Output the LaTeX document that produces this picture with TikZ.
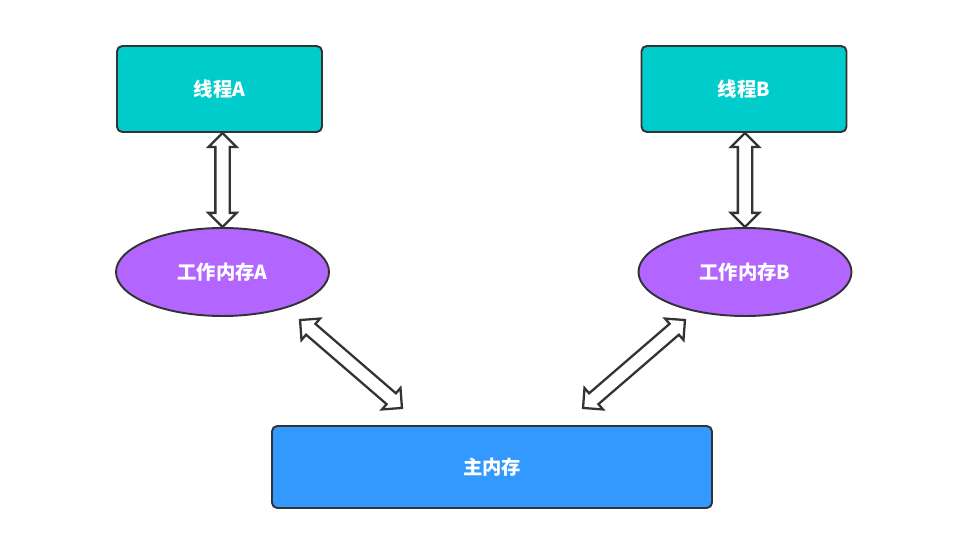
\documentclass[tikz,border=0pt]{standalone}
\usepackage{fontspec}
\setmainfont{Noto Sans CJK SC}
\usetikzlibrary{shapes.geometric,shapes.arrows,calc}

\definecolor{threadc}{RGB}{0,204,204}
\definecolor{workc}{RGB}{178,102,255}
\definecolor{mainc}{RGB}{51,153,255}
\definecolor{edgec}{RGB}{51,51,51}

\tikzset{
  label text/.style={text=white, font=\bfseries\fontsize{11}{13}\selectfont},
  box/.style={draw=edgec, line width=1.1pt, rounded corners=3pt, label text},
  oval/.style={ellipse, draw=edgec, fill=workc, line width=1.1pt, inner sep=0, label text},
  hollow/.style={double arrow, draw=edgec, fill=white, line width=1.3pt,
    double arrow head extend=0.14cm, inner xsep=0, inner ysep=0.12cm,
    minimum width=0.52cm}
}

\begin{document}
\begin{tikzpicture}

\useasboundingbox ( 0, 0 ) rectangle ( 19.54, -10.92 );

% Threads
\node [box, fill=threadc, minimum width=4.1cm, minimum height=1.72cm] (thrA) at ( 4.39, -1.78 ) {线程A};
\node [box, fill=threadc, minimum width=4.1cm, minimum height=1.72cm] (thrB) at ( 14.88, -1.78 ) {线程B};

% Working memory
\node [oval, minimum width=4.26cm, minimum height=1.76cm] (memA) at ( 4.45, -5.44 ) {工作内存A};
\node [oval, minimum width=4.26cm, minimum height=1.76cm] (memB) at ( 14.9, -5.44 ) {工作内存B};

% Main memory
\node [box, fill=mainc, minimum width=8.8cm, minimum height=1.64cm] (main) at ( 9.84, -9.34 ) {主内存};

% Arrow ends
\coordinate (tA) at (memA.north |- thrA.south);
\coordinate (tB) at (memB.north |- thrB.south);
\coordinate (a1) at ( 6.0, -6.4 );
\coordinate (a2) at ( 8.04, -8.16 );
\coordinate (b1) at ( 13.7, -6.4 );
\coordinate (b2) at ( 11.66, -8.16 );

% Arrows
\path let \p1 = ($(memA.north)-(tA)$), \n1 = {veclen(\x1,\y1)} in (tA) -- node [hollow, sloped, minimum height=\n1] (arrA) {} (memA.north);
\path let \p1 = ($(memB.north)-(tB)$), \n1 = {veclen(\x1,\y1)} in (tB) -- node [hollow, sloped, minimum height=\n1] (arrB) {} (memB.north);
\path let \p1 = ($(a2)-(a1)$), \n1 = {veclen(\x1,\y1)} in (a1) -- node [hollow, sloped, minimum height=\n1] (arrC) {} (a2);
\path let \p1 = ($(b2)-(b1)$), \n1 = {veclen(\x1,\y1)} in (b1) -- node [hollow, sloped, minimum height=\n1] (arrD) {} (b2);

\end{tikzpicture}
\end{document}
